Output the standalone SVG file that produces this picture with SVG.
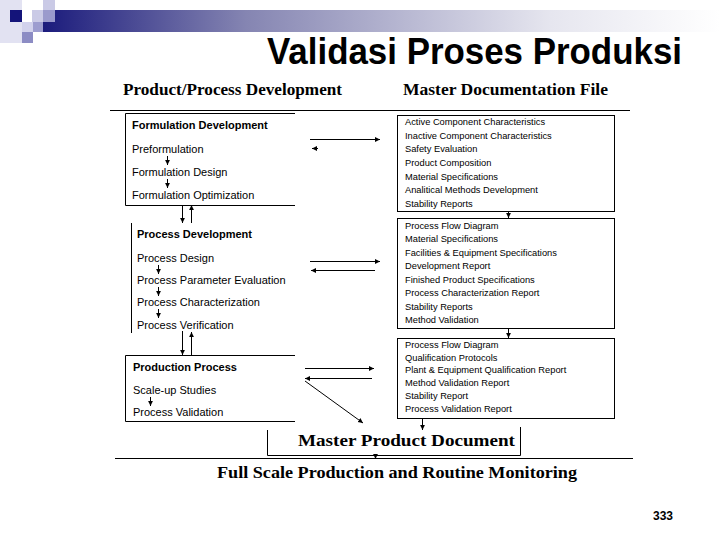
<svg xmlns="http://www.w3.org/2000/svg" width="720" height="540" viewBox="0 0 720 540">
<defs>
<linearGradient id="band" x1="43" y1="0" x2="720" y2="0" gradientUnits="userSpaceOnUse">
<stop offset="0" stop-color="#1b1b7c"/>
<stop offset="0.3" stop-color="#8585b2"/>
<stop offset="0.75" stop-color="#e6e6ef"/>
<stop offset="1" stop-color="#ffffff"/>
</linearGradient>
<marker id="ah" markerWidth="6" markerHeight="6" refX="5" refY="3" orient="auto" markerUnits="userSpaceOnUse">
<path d="M0,0.6 L5,3 L0,5.4 z" fill="#000"/>
</marker>
<style>
.title{font-family:"Liberation Sans",Arial,sans-serif;font-weight:bold;font-size:37px;fill:#000}
.hdr{font-family:"Liberation Serif","Times New Roman",serif;font-weight:bold;font-size:17px;fill:#000}
.bh{font-family:"Liberation Sans",Arial,sans-serif;font-weight:bold;font-size:11px;fill:#000}
.it{font-family:"Liberation Sans",Arial,sans-serif;font-size:11px;fill:#000}
.sm{font-family:"Liberation Sans",Arial,sans-serif;font-size:9.3px;fill:#000}
.pg{font-family:"Liberation Sans",Arial,sans-serif;font-weight:bold;font-size:12px;fill:#000}
.ln{fill:none;stroke:#000;stroke-width:1}
.ar{fill:none;stroke:#000;stroke-width:1;marker-end:url(#ah)}
</style>
</defs>
<rect width="720" height="540" fill="#fff"/>
<g id="decoration">
<rect x="0" y="0" width="22" height="43" fill="#e2e2f2"/>
<rect x="43" y="10" width="677" height="22" fill="url(#band)"/>
<rect x="10" y="10" width="12" height="12" fill="#14147a"/>
<rect x="32" y="10" width="11" height="12" fill="#cacae6"/>
<rect x="43" y="0" width="12" height="10" fill="#cacae6"/>
<rect x="43" y="10" width="12" height="12" fill="#9a9acc"/>
<rect x="22" y="22" width="11" height="10" fill="#d2d2ec"/>
<rect x="33" y="22" width="10" height="10" fill="#9d9dcf"/>
<rect x="22" y="32" width="11" height="11" fill="#8c8cc4"/>
</g>
<text class="title" x="267" y="64" textLength="415" lengthAdjust="spacingAndGlyphs">Validasi Proses Produksi</text>
<g id="headers">
<text class="hdr" x="123" y="95" textLength="219" lengthAdjust="spacingAndGlyphs">Product/Process Development</text>
<text class="hdr" x="403" y="95" textLength="205" lengthAdjust="spacingAndGlyphs">Master Documentation File</text>
<line class="ln" x1="110" y1="110.5" x2="630" y2="110.5"/>
</g>
<g id="formulation-development">
<path class="ln" d="M295,113.5 H125.5 V205.5 H295"/>
<text class="bh" x="132" y="129">Formulation Development</text>
<text class="it" x="132" y="153">Preformulation</text>
<text class="it" x="132" y="176">Formulation Design</text>
<text class="it" x="132" y="199">Formulation Optimization</text>
<line class="ar" x1="167.5" y1="156" x2="167.5" y2="165"/>
<line class="ar" x1="167.5" y1="179" x2="167.5" y2="188"/>
</g>
<g id="process-development">
<line class="ln" x1="131.5" y1="223" x2="131.5" y2="333"/>
<text class="bh" x="137" y="238">Process Development</text>
<text class="it" x="137" y="262">Process Design</text>
<text class="it" x="137" y="284">Process Parameter Evaluation</text>
<text class="it" x="137" y="306">Process Characterization</text>
<text class="it" x="137" y="329">Process Verification</text>
<line class="ar" x1="158.5" y1="265" x2="158.5" y2="274"/>
<line class="ar" x1="158.5" y1="287" x2="158.5" y2="296"/>
<line class="ar" x1="158.5" y1="309" x2="158.5" y2="318"/>
</g>
<g id="production-process">
<path class="ln" d="M295,355.5 H125.5 V421.5 H295"/>
<text class="bh" x="133" y="371">Production Process</text>
<text class="it" x="133" y="394">Scale-up Studies</text>
<text class="it" x="133" y="416">Process Validation</text>
<line class="ar" x1="150.5" y1="397" x2="150.5" y2="406"/>
</g>
<g id="mdf-formulation">
<rect class="ln" x="397.5" y="115.5" width="217" height="96"/>
<text class="sm" x="405" y="124.8">Active Component Characteristics</text>
<text class="sm" x="405" y="138.5">Inactive Component Characteristics</text>
<text class="sm" x="405" y="152.2">Safety Evaluation</text>
<text class="sm" x="405" y="165.9">Product Composition</text>
<text class="sm" x="405" y="179.6">Material Specifications</text>
<text class="sm" x="405" y="193.3">Analitical Methods Development</text>
<text class="sm" x="405" y="207">Stability Reports</text>
</g>
<g id="mdf-process">
<rect class="ln" x="397.5" y="218.5" width="217" height="110"/>
<text class="sm" x="405" y="228.5">Process Flow Diagram</text>
<text class="sm" x="405" y="242">Material Specifications</text>
<text class="sm" x="405" y="255.5">Facilities &amp; Equipment Specifications</text>
<text class="sm" x="405" y="269">Development Report</text>
<text class="sm" x="405" y="282.5">Finished Product Specifications</text>
<text class="sm" x="405" y="296">Process Characterization Report</text>
<text class="sm" x="405" y="309.5">Stability Reports</text>
<text class="sm" x="405" y="323">Method Validation</text>
</g>
<g id="mdf-production">
<rect class="ln" x="397.5" y="338.5" width="217" height="80"/>
<text class="sm" x="405" y="348">Process Flow Diagram</text>
<text class="sm" x="405" y="360.7">Qualification Protocols</text>
<text class="sm" x="405" y="373.4">Plant &amp; Equipment Qualification Report</text>
<text class="sm" x="405" y="386.1">Method Validation Report</text>
<text class="sm" x="405" y="398.8">Stability Report</text>
<text class="sm" x="405" y="411.5">Process Validation Report</text>
</g>
<g id="master-product-document">
<path class="ln" d="M267.5,430 V455.5 H520.5 V427"/>
<text class="hdr" x="298" y="446" textLength="217" lengthAdjust="spacingAndGlyphs">Master Product Document</text>
</g>
<g id="full-scale-production">
<line class="ln" x1="115" y1="458.5" x2="633" y2="458.5"/>
<text class="hdr" x="217" y="478" textLength="360" lengthAdjust="spacingAndGlyphs">Full Scale Production and Routine Monitoring</text>
</g>
<g id="connectors">
<line class="ar" x1="310" y1="139.5" x2="380" y2="139.5"/>
<line class="ar" x1="318" y1="148.5" x2="312" y2="148.5"/>
<line class="ar" x1="182.5" y1="205" x2="182.5" y2="223"/>
<line class="ar" x1="191.5" y1="223" x2="191.5" y2="205"/>
<line class="ar" x1="310" y1="261.5" x2="380" y2="261.5"/>
<line class="ar" x1="375" y1="270.5" x2="311" y2="270.5"/>
<line class="ar" x1="182.5" y1="331" x2="182.5" y2="355"/>
<line class="ar" x1="191.5" y1="355" x2="191.5" y2="332"/>
<line class="ar" x1="305" y1="368.5" x2="374" y2="368.5"/>
<line class="ar" x1="372" y1="378.5" x2="305" y2="378.5"/>
<line class="ar" x1="305" y1="381" x2="363" y2="423"/>
<line class="ar" x1="508.5" y1="211" x2="508.5" y2="218"/>
<line class="ar" x1="508.5" y1="328" x2="508.5" y2="338"/>
<line class="ar" x1="422.5" y1="418" x2="422.5" y2="430"/>
<line class="ar" x1="375.5" y1="455" x2="375.5" y2="459"/>
</g>
<text class="pg" x="653" y="520">333</text>
</svg>
